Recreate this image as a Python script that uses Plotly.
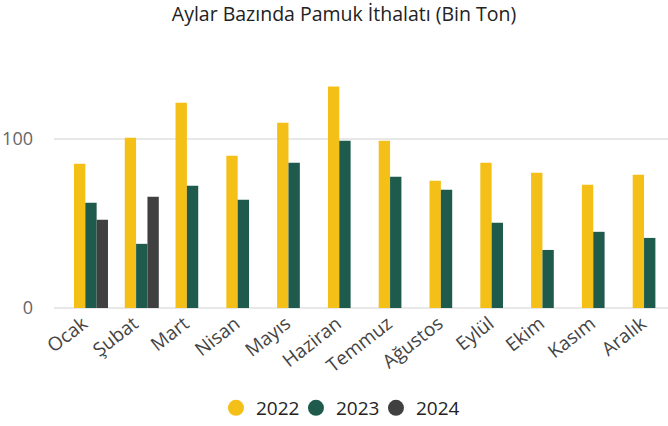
import plotly.graph_objects as go

months = ["Ocak", "Şubat", "Mart", "Nisan", "Mayıs", "Haziran", "Temmuz",
          "Ağustos", "Eylül", "Ekim", "Kasım", "Aralık"]
y2022 = [85.2, 100.6, 121.3, 89.9, 109.5, 130.8, 98.8, 75.1, 85.8, 79.9, 72.8, 78.7]
y2023 = [62.1, 37.9, 72.2, 63.9, 85.8, 98.8, 77.5, 69.8, 50.3, 34.3, 45.0, 41.4]
y2024 = [52.1, 65.7, None, None, None, None, None, None, None, None, None, None]

series = [("2022", y2022, "#F4BF16"), ("2023", y2023, "#1E5B4D"), ("2024", y2024, "#404040")]

fig = go.Figure()
for name, vals, col in series:
    fig.add_trace(go.Bar(x=months, y=vals, name=name, marker_color=col,
                         marker_line_width=0, showlegend=False))
for name, vals, col in series:
    fig.add_trace(go.Scatter(x=[None], y=[None], mode="markers", name=name,
                             marker=dict(symbol="circle", size=20, color=col)))
# invisible spacer entry so the last legend label is not clipped
fig.add_trace(go.Scatter(x=[None], y=[None], mode="markers", name=" ",
                         marker=dict(size=1, color="rgba(0,0,0,0)"), hoverinfo="skip"))

fig.update_layout(
    width=668, height=426,
    paper_bgcolor="white", plot_bgcolor="white",
    margin=dict(l=54, r=0, t=71, b=118, autoexpand=False),
    barmode="group", bargap=0.33, bargroupgap=0,
    font=dict(family="Open Sans, Noto Sans, sans-serif", color="#333"),
    title=dict(text="Aylar Bazında Pamuk İthalatı (Bin Ton)", x=0.515, xanchor="center",
               xref="container", y=1 - 14 / 426, yanchor="middle",
               font=dict(size=19.5, color="#222")),
    legend=dict(orientation="h", x=0.2638, xanchor="left", y=-0.422, yanchor="middle",
                font=dict(size=19, color="#222"), itemwidth=30, entrywidth=35,
                tracegroupgap=0),
    xaxis=dict(tickangle=-38, tickfont=dict(size=19, color="#444"), showgrid=False,
               showline=False, ticks="", range=[-0.728, 11.36], automargin=False,
               ticklabelshift=-8),
    yaxis=dict(range=[0, 140], dtick=100, showgrid=True, gridcolor="#E8E8E8", gridwidth=2,
               zeroline=True, zerolinecolor="#E8E8E8", zerolinewidth=2,
               tickfont=dict(size=18, color="#666"), ticklabelstandoff=20,
               automargin=False),
)
fig.write_html("out.html", config={"displayModeBar": False},
               post_script="document.body.style.margin='0';")
